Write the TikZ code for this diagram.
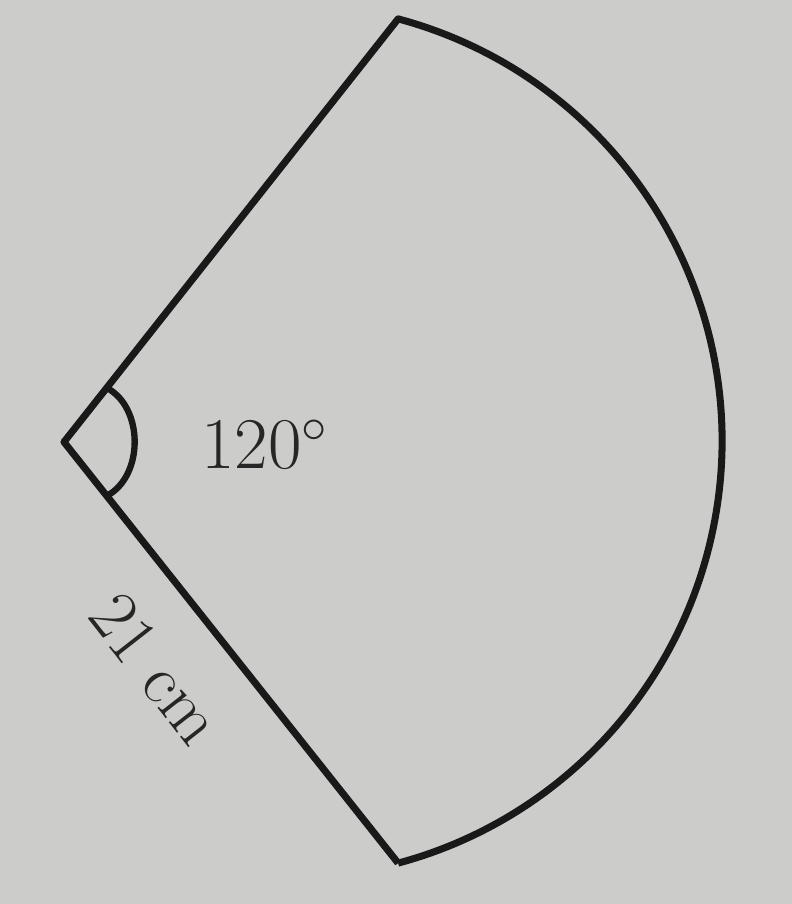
\documentclass[tikz,border=0pt]{standalone}
\usepackage{amsmath,amssymb}
\usetikzlibrary{calc}
\definecolor{paper}{RGB}{204,204,202}

\begin{document}
\begin{tikzpicture}[
    edge/.style={line width=2pt, line join=round, black!90},
    lbl/.style={font=\fontsize{20}{24}\selectfont, black!85},
]
    % --- background / page size ---
    \fill[paper] (0,0) rectangle (7.92,9.04);
    \useasboundingbox (0,0) rectangle (7.92,9.04);

    % --- corner points ---
    \coordinate (V) at (0.64,4.62);
    \coordinate (C) at (2.85,4.63);
    \coordinate (T) at ($(C)+(75:4.37)$);
    \coordinate (B) at ($(C)+(-75:4.37)$);

    % --- sector outline ---
    \draw[edge] (B) -- (V) -- (T) arc[start angle=75, end angle=-75, radius=4.37];

    % --- angle mark ---
    \coordinate (m1) at ($(V)!0.128!(T)$);
    \coordinate (m2) at ($(V)!0.128!(B)$);
    \draw[edge, line width=1.8pt] (m1) to[out=-28, in=28] (m2);

    % --- labels ---
    \node[lbl] (ang) at (2.65,4.60) {$120^{\circ}$};
    \node[lbl, rotate=-52] (rad) at (1.56,2.35) {21 cm};
\end{tikzpicture}
\end{document}
